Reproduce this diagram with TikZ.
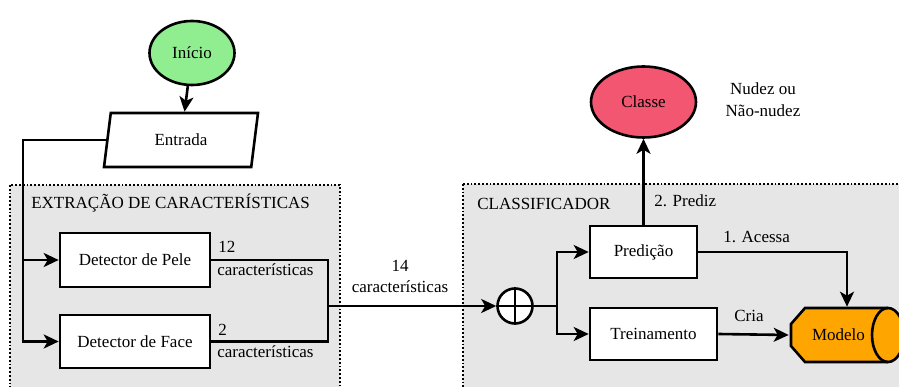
\documentclass[tikz,border=0pt]{standalone}
\usepackage{fontspec}
\setmainfont{Liberation Serif}
\usetikzlibrary{shapes.geometric,arrows.meta}

\tikzset{
  proc/.style={draw, fill=white, minimum height=52, inner sep=0pt},
  flow/.style={-{Stealth[length=15pt,width=14pt,inset=4pt]}},
  grupo/.style={draw, dotted, line width=1.8pt, fill={rgb,255:red,230;green,230;blue,230}},
  rotulo/.style={inner sep=0pt}
}

\begin{document}
\begin{tikzpicture}[x=1pt,y=1pt,yscale=-1,line width=2.6pt,font=\fontsize{17}{22}\selectfont]
\useasboundingbox (0,0) rectangle (899,387);
\clip (0,0) rectangle (899,387);

%Containers
\draw[grupo] (10,185) rectangle (340,400);
\draw[grupo] (463,184) rectangle (930,400);
\node[rotulo, anchor=base west] (titext) at (30,209) {EXTRAÇÃO DE CARACTERÍSTICAS};
\node[rotulo, anchor=base west] (titcls) at (476,210) {CLASSIFICADOR};

%Start and input
\node[ellipse, draw, fill={rgb,255:red,144;green,238;blue,144}, minimum width=85, minimum height=64] (inicio) at (192,53) {Início};
\node[trapezium, trapezium left angle=70, trapezium right angle=110, trapezium stretches body, draw, fill=white, minimum width=154, minimum height=54] (entrada) at (181,140) {Entrada};
\draw[flow] (inicio) -- (entrada);

%Feature detectors
\node[proc, minimum width=150, minimum height=54] (pele) at (135,260) {Detector de Pele};
\node[proc, minimum width=150, minimum height=53] (face) at (135,341.5) {Detector de Face};
\coordinate (desvio) at (23,140);
\draw[flow] (entrada.west) -| (desvio |- face.west) -- (face.west);
\draw[flow] (desvio |- pele.west) -- (pele.west);

% Text Node
\node[rotulo, anchor=base west] (q12) at (217,253) {12};
\node[rotulo, anchor=base west] (c12) at (216,276) {características};
\node[rotulo, anchor=base west] (q2) at (217,335) {2};
\node[rotulo, anchor=base west] (c2) at (216,357) {características};

%Join and sum
\coordinate (juncao) at (328,306);
\draw (pele.east) -| (juncao);
\draw (face.east) -| (juncao);
\node[circle, draw, fill=white, minimum size=35, inner sep=0pt] (soma) at (515,306) {};
\draw (soma.north) -- (soma.south) (soma.west) -- (soma.east);
\draw[flow] (juncao) -- (soma.west);
\node[rotulo, anchor=base] (q14) at (400,272) {14};
\node[rotulo, anchor=base] (c14) at (400,292) {características};

%Classifier
\coordinate (ramo) at (557,306);
\draw (soma.east) -- (ramo);
\node[proc, minimum width=107] (pred) at (643.5,252) {Predição};
\node[proc, minimum width=127] (trein) at (653.5,334) {Treinamento};
\draw[flow] (ramo) |- (pred.west);
\draw[flow] (ramo) |- (trein.west);

%Output class
\node[ellipse, draw, fill={rgb,255:red,243;green,86;blue,113}, minimum width=105, minimum height=71] (classe) at (643.5,102) {Classe};
\draw[flow] (pred.north) -- (classe.south);
\node[rotulo, anchor=base west] (prediz) at (653,207) {2. Prediz};
\node[rotulo, align=center] (saida) at (763,100) {Nudez ou\\Não-nudez};

%Model storage (horizontal drum)
\node[minimum width=114, minimum height=54, inner sep=0pt] (modelo) at (847,335) {};
\draw[fill={rgb,255:red,255;green,165;blue,0}] (805,308) -- (888,308) arc[start angle=-90, end angle=90, x radius=16, y radius=27] -- (805,362) -- (791,346) -- (791,324) -- cycle;
\draw (888,308) arc[start angle=-90, end angle=-270, x radius=16, y radius=27];
\node (modtxt) at (838.5,335) {Modelo};
\draw[flow] (pred.east) -| (modelo.north);
\draw[flow] (trein.east) -- (modelo.west);
\node[rotulo, anchor=base west] (acessa) at (722,243) {1. Acessa};
\node[rotulo, anchor=base west] (cria) at (733,321) {Cria};

\end{tikzpicture}
\end{document}
